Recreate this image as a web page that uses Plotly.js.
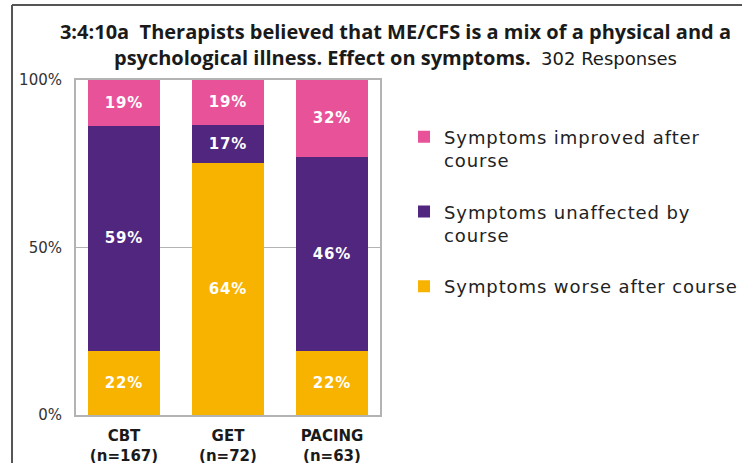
<!DOCTYPE html>
<html>
<head>
<meta charset="utf-8">
<script src="https://cdn.plot.ly/plotly-3.0.1.min.js"></script>
<style>
  html, body { margin: 0; padding: 0; background: #fff; }
  #chart { width: 742px; height: 463px; }
  text.legendtext { letter-spacing: 0.9px; }
  text.bartext { letter-spacing: 0.8px; }
</style>
</head>
<body>
<div id="chart"></div>
<script>
// Categories (x-axis labels)
var categories = ["<b>CBT</b><br><b>(n=167)</b>", "<b>GET</b><br><b>(n=72)</b>", "<b>PACING</b><br><b>(n=63)</b>"];

// Series names
var seriesNames = ["Symptoms worse after course", "Symptoms unaffected by<br>course", "Symptoms improved after<br>course"];

// Bar heights as drawn in the reference picture (percent of axis)
var worseHeights      = [19.2, 75.1, 19.2];
var unaffectedHeights = [67.1, 11.5, 57.9];
var improvedHeights   = [13.7, 13.4, 22.9];

// Percent labels printed on the bars
var worseLabels      = ["22%", "64%", "22%"];
var unaffectedLabels = ["59%", "17%", "46%"];
var improvedLabels   = ["19%", "19%", "32%"];

// Y-axis ticks
var yTickVals = [0, 50, 100];
var yTickText = ["0%", "50%", "100%"];

var colors = { worse: "#F8B200", unaffected: "#50267F", improved: "#E85298" };

function barTrace(name, y, labels, color, group, rank) {
  return {
    type: "bar",
    name: name,
    x: categories,
    y: y,
    text: labels,
    texttemplate: "%{text}",
    textposition: "inside",
    insidetextanchor: "middle",
    textangle: 0,
    constraintext: "none",
    textfont: { family: "DejaVu Sans", size: 15, color: "#ffffff", weight: "bold" },
    marker: { color: color, line: { width: 0 } },
    legendgroup: group,
    legendrank: rank,
    hoverinfo: "skip"
  };
}

var data = [
  barTrace(seriesNames[0], worseHeights, worseLabels, colors.worse, "g1", 3),
  barTrace(seriesNames[1], unaffectedHeights, unaffectedLabels, colors.unaffected, "g2", 2),
  barTrace(seriesNames[2], improvedHeights, improvedLabels, colors.improved, "g3", 1)
];

var layout = {
  width: 742,
  height: 463,
  paper_bgcolor: "#ffffff",
  plot_bgcolor: "#ffffff",
  barmode: "stack",
  bargap: 0.3077,
  margin: { l: 76, r: 362, t: 80, b: 48, pad: 0, autoexpand: false },
  title: {
    text: "<b>3:4:10a  Therapists believed that ME/CFS is a mix of a physical and a<br>psychological illness. Effect on symptoms.</b>  <span style=\"font-family:'DejaVu Sans';font-weight:normal;font-size:18px\">302 Responses</span>",
    font: { family: "Open Sans", size: 20, color: "#1a1a1a" },
    x: 0.533, xref: "container", xanchor: "center",
    y: 0.915, yref: "container", yanchor: "top"
  },
  xaxis: {
    type: "category",
    range: [-0.4615, 2.4615],
    showline: true, mirror: true, linecolor: "#b3b3b3", linewidth: 2,
    showgrid: false, ticks: "",
    ticklabelstandoff: 6,
    tickfont: { family: "DejaVu Sans", size: 15, color: "#1a1a1a", weight: "bold" },
    fixedrange: true
  },
  yaxis: {
    range: [0, 100],
    tickvals: yTickVals,
    ticktext: yTickText,
    showline: true, mirror: true, linecolor: "#b3b3b3", linewidth: 2,
    showgrid: true, gridcolor: "#b3b3b3", gridwidth: 1.5,
    zeroline: false, ticks: "",
    ticklabelstandoff: 9,
    tickfont: { family: "DejaVu Sans", size: 15, color: "#333333" },
    fixedrange: true
  },
  legend: {
    x: 1.079, xanchor: "left",
    y: 0.885, yanchor: "top",
    traceorder: "grouped",
    tracegroupgap: 25,
    valign: "top",
    font: { family: "DejaVu Sans", size: 18, color: "#222222" },
    bgcolor: "rgba(0,0,0,0)"
  },
  shapes: [
    { type: "line", xref: "paper", yref: "paper", x0: -0.2105, x1: -0.2105, y0: -0.3, y1: 1.2239,
      line: { color: "#555555", width: 2 } },
    { type: "line", xref: "paper", yref: "paper", x0: -0.2105, x1: 2.5, y0: 1.2239, y1: 1.2239,
      line: { color: "#555555", width: 2 } }
  ],
  hovermode: false,
  showlegend: true
};

Plotly.newPlot("chart", data, layout, { displayModeBar: false, staticPlot: true });
</script>
</body>
</html>
